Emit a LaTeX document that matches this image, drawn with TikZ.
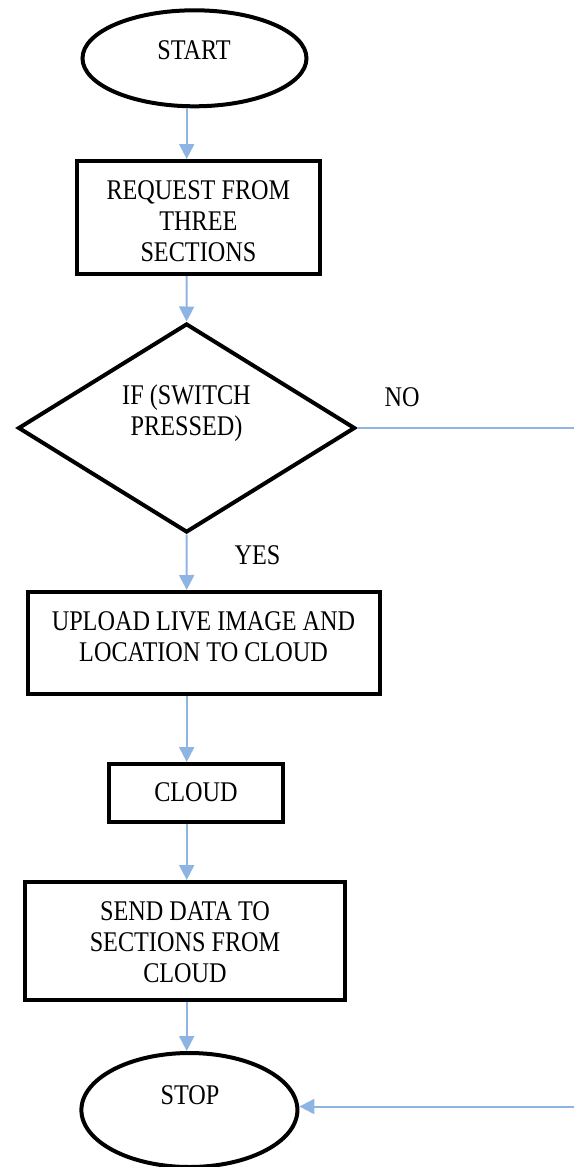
\documentclass[tikz,border=0pt]{standalone}
\usepackage{fontspec}
\setmainfont{Liberation Serif}[FakeStretch=0.85]
\usetikzlibrary{shapes.geometric,arrows.meta}
\definecolor{lineblue}{RGB}{141,180,226}
\tikzset{
  box/.style={draw=black,line width=4pt,rectangle,inner sep=0pt},
  oval/.style={draw=black,line width=4pt,ellipse,inner sep=0pt},
  decision/.style={draw=black,line width=4pt,diamond,inner sep=0pt},
  lbl/.style={inner sep=0pt,align=center,font=\fontsize{28.5}{31}\selectfont},
  arr/.style={draw=lineblue,line width=2pt,-{Triangle[width=15pt,length=15pt]}},
  plain/.style={draw=lineblue,line width=2pt}
}
\begin{document}
\begin{tikzpicture}[x=1pt,y=-1pt]
\useasboundingbox (0,0) rectangle (574,1167);
% shapes
\node[oval,minimum width=224pt,minimum height=96pt] (start) at (194.5,58.3) {};
\node[box,minimum width=243pt,minimum height=113pt] (req) at (198.5,217.5) {};
\node[decision,minimum width=337pt,minimum height=209pt] (dec) at (186.6,428) {};
\node[box,minimum width=352pt,minimum height=102pt] (up) at (203.7,643) {};
\node[box,minimum width=173.6pt,minimum height=58pt] (cloud) at (196,793) {};
\node[box,minimum width=319.6pt,minimum height=118pt] (send) at (185.2,941) {};
\node[oval,minimum width=216pt,minimum height=114pt] (stop) at (189.4,1110) {};
% texts
\node[lbl] (startT) at (194,50) {START};
\node[lbl] (reqT) at (198.4,221.5) {REQUEST FROM\\THREE\\SECTIONS};
\node[lbl] (decT) at (186.5,413.6) {IF (SWITCH\\PRESSED)};
\node[lbl] (noT) at (402,397) {NO};
\node[lbl] (yesT) at (257.5,555) {YES};
\node[lbl] (upT) at (203.5,637) {UPLOAD LIVE IMAGE AND\\LOCATION TO CLOUD};
\node[lbl] (cloudT) at (196,792) {CLOUD};
\node[lbl] (sendT) at (185,942.6) {SEND DATA TO\\SECTIONS FROM\\CLOUD};
\node[lbl] (stopT) at (190,1095) {STOP};
% connectors
\coordinate (axis) at (186.7,0);
\coordinate (noEnd) at (574,428);
\coordinate (stopIn) at (574,1106.5);
\draw[arr] (start.south -| axis) -- (req.north -| axis);
\draw[arr] (req.south -| axis) -- (dec.north);
\draw[arr] (dec.south) -- (up.north -| axis);
\draw[arr] (up.south -| axis) -- (cloud.north -| axis);
\draw[arr] (cloud.south -| axis) -- (send.north -| axis);
\draw[arr] (send.south -| axis) -- (stop.north -| axis);
\draw[plain] (dec.east) -- (noEnd);
\draw[arr] (stopIn) -- (stopIn -| stop.east);
\end{tikzpicture}
\end{document}
